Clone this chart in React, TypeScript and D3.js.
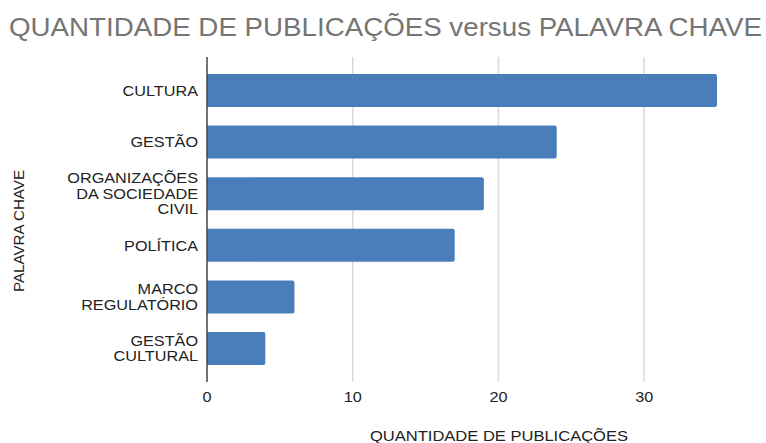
import React from "react";
import * as d3 from "d3";

const categories = [
  ["CULTURA"],
  ["GESTÃO"],
  ["ORGANIZAÇÕES", "DA SOCIEDADE", "CIVIL"],
  ["POLÍTICA"],
  ["MARCO", "REGULATÓRIO"],
  ["GESTÃO", "CULTURAL"],
];
const values = [35, 24, 19, 17, 6, 4];
const xTicks = [0, 10, 20, 30];

const W = 766, H = 443;
const left = 207, right = 717, top = 57, bottom = 382;

export default function App() {
  const x = d3.scaleLinear().domain([0, 35]).range([left, right]);
  const keys = categories.map((c) => c.join(" "));
  const y = d3.scaleBand().domain(keys).range([top + 0.5, bottom - 0.5]).paddingInner(0.36).paddingOuter(0.32);
  const font = "'Liberation Sans', Arial, sans-serif";
  const r = 2;
  const sx = 1.12;
  return (
    <svg width={W} height={H} style={{ position: "absolute", left: 0, top: 0 }} fontFamily={font}>
      <rect width={W} height={H} fill="#fff" />
      <text x={9} y={35.5} fontSize={25.5} fill="#757575" textLength={753} lengthAdjust="spacingAndGlyphs">
        QUANTIDADE DE PUBLICAÇÕES versus PALAVRA CHAVE
      </text>
      {xTicks.filter((t) => t > 0).map((t) => (
        <line key={t} x1={x(t)} x2={x(t)} y1={top} y2={bottom} stroke="#d9d9d9" strokeWidth={1.5} />
      ))}
      {values.map((v, i) => {
        const y0 = y(keys[i])!;
        const bw = y.bandwidth();
        const x0 = x(0), x1 = x(v);
        const d = `M${x0},${y0}H${x1 - r}Q${x1},${y0} ${x1},${y0 + r}V${y0 + bw - r}Q${x1},${y0 + bw} ${x1 - r},${y0 + bw}H${x0}Z`;
        return <path key={i} d={d} fill="#4a7ebb" />;
      })}
      <line x1={x(0)} x2={x(0)} y1={top} y2={bottom} stroke="#444" strokeWidth={1.5} />
      {categories.map((lines, i) => {
        const cy = y(keys[i])! + y.bandwidth() / 2;
        const lh = 15.5;
        const start = cy - ((lines.length - 1) * lh) / 2;
        return (
          <text key={i} transform={`translate(198,0) scale(${sx},1)`} textAnchor="end" fontSize={14.5} fill="#222">
            {lines.map((l, j) => (
              <tspan key={j} x={0} y={start + j * lh} dy="0.36em">{l}</tspan>
            ))}
          </text>
        );
      })}
      {xTicks.map((t) => (
        <text key={t} transform={`translate(${x(t)},402) scale(${sx},1)`} textAnchor="middle" fontSize={14.5} fill="#222">{t}</text>
      ))}
      <text x={499} y={441} textAnchor="middle" fontSize={14.5} fill="#222" textLength={258} lengthAdjust="spacingAndGlyphs">QUANTIDADE DE PUBLICAÇÕES</text>
      <text transform={`translate(24,231) rotate(-90)`} textAnchor="middle" fontSize={15} fill="#222" textLength={122} lengthAdjust="spacingAndGlyphs">PALAVRA CHAVE</text>
    </svg>
  );
}
